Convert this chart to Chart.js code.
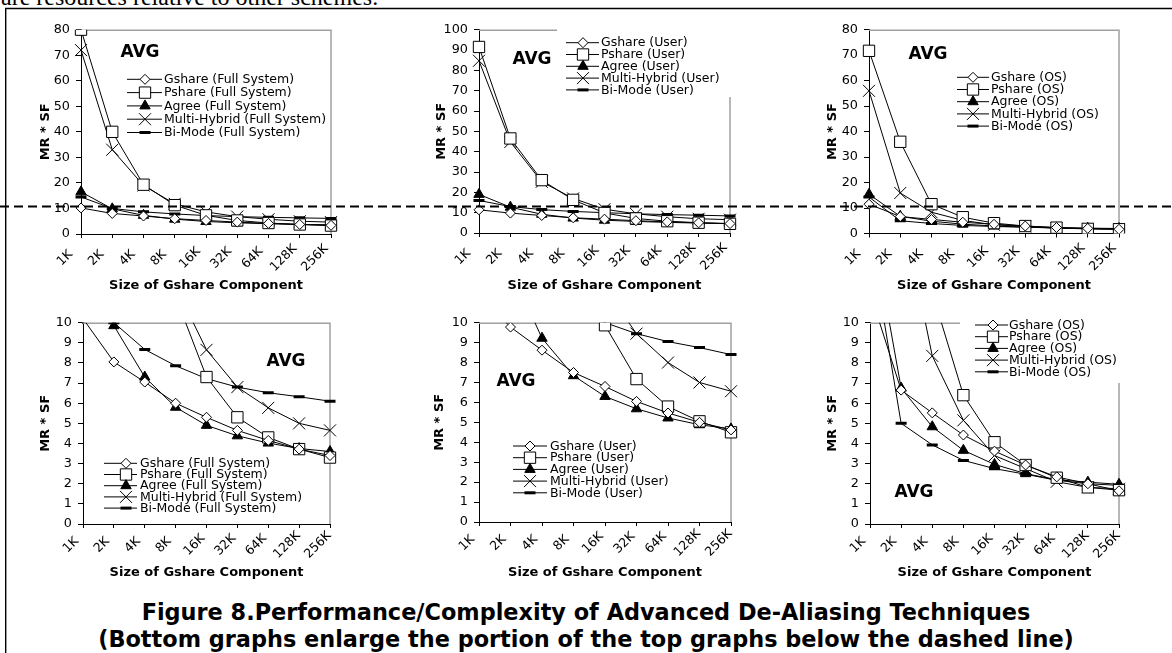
<!DOCTYPE html>
<html>
<head>
<meta charset="utf-8">
<title>Figure 8</title>
<script src="https://cdn.jsdelivr.net/npm/chart.js"></script>
<style>
  html, body { margin:0; padding:0; background:#fff; }
  body { position:relative; width:1172px; height:653px; overflow:hidden; }
  .prev { position:absolute; left:1px; top:-15px; font-family:"Liberation Serif"; font-size:24px; line-height:24px; white-space:nowrap; color:#000; }
  .cap { position:absolute; left:0; width:1172px; text-align:center; font-family:"DejaVu Sans"; font-weight:bold; font-size:22.4px; line-height:28px; white-space:nowrap; color:#000; }
  svg.overlay { position:absolute; left:0; top:0; z-index:5; pointer-events:none; }
  canvas { position:absolute; z-index:1; }
</style>
</head>
<body>
<div class="prev">are resources relative to other schemes.</div>
<div class="cap" style="top:597.5px">Figure 8.Performance/Complexity of Advanced De-Aliasing Techniques</div>
<div class="cap" style="top:625.3px">(Bottom graphs enlarge the portion of the top graphs below the dashed line)</div>
<svg class="overlay" width="1172" height="653">
  <line x1="5.7" y1="8" x2="5.7" y2="653" stroke="#000" stroke-width="1.4"/>
  <line x1="5" y1="8.5" x2="1172" y2="8.5" stroke="#000" stroke-width="1.4"/>
  <line x1="0" y1="206.5" x2="1172" y2="206.5" stroke="#000" stroke-width="1.8" stroke-dasharray="9 5"/>
</svg>
<script>
// ---------------- data ----------------
const sizeLabels = ['1K','2K','4K','8K','16K','32K','64K','128K','256K'];
const seriesNames = ['Gshare','Pshare','Agree','Multi-Hybrid','Bi-Mode'];
const modeNames = ['Full System','User','OS'];

// Full System
const gshareFull = [10.2, 8.05, 7.05, 6.0, 5.3, 4.65, 4.15, 3.72, 3.4];
const pshareFull = [80, 40, 19.3, 11.3, 7.3, 5.3, 4.3, 3.72, 3.3];
const agreeFull  = [16.5, 9.85, 7.3, 5.8, 4.9, 4.38, 4.02, 3.75, 3.6];
const multiFull  = [72, 33, 19, 11.8, 8.65, 6.8, 5.77, 5.0, 4.65];
const bimodeFull = [14.5, 10.0, 8.67, 7.86, 7.22, 6.8, 6.52, 6.32, 6.1];

// User
const gshareUser = [11.4, 9.78, 8.62, 7.5, 6.8, 6.05, 5.47, 5.0, 4.62];
const pshareUser = [91.5, 46.5, 26, 16.3, 9.87, 7.17, 5.79, 5.05, 4.5];
const agreeUser  = [19, 12.7, 9.22, 7.34, 6.3, 5.68, 5.22, 4.88, 4.67];
const multiUser  = [84.7, 44.8, 25.2, 17, 11.7, 9.45, 8.0, 7.0, 6.56];
const bimodeUser = [16, 13, 11.5, 10.6, 10.0, 9.45, 9.05, 8.75, 8.4];

// OS
const gshareOS = [11.5, 6.65, 5.52, 4.42, 3.62, 2.93, 2.34, 2.0, 1.65];
const pshareOS = [71.7, 36, 11.5, 6.4, 4.06, 2.93, 2.3, 1.82, 1.68];
const agreeOS  = [15.4, 6.75, 4.83, 3.66, 2.96, 2.5, 2.2, 2.08, 1.97];
const multiOS  = [56, 15.9, 8.35, 5.15, 3.4, 2.75, 2.1, 1.82, 1.75];
const bimodeOS = [14.3, 5.0, 3.93, 3.16, 2.75, 2.47, 2.17, 2.0, 1.92];

const yMaxTop = [80, 100, 80];
const yStepTop = 10;
const yMaxBottom = 10;
const yStepBottom = 1;
const yTitle = 'MR * SF';
const xTitle = 'Size of Gshare Component';
const panelTag = 'AVG';

// ---------------- styles / layout ----------------
const FONT = '"DejaVu Sans"';
Chart.defaults.font.family = FONT;
Chart.defaults.color = '#000';

const markerStyles = [
  {pointStyle:'rectRot',  radius:5,   fill:'#fff', bw:1},
  {pointStyle:'rect',     radius:8,   fill:'#fff', bw:1},
  {pointStyle:'triangle', radius:6,   fill:'#000', bw:1},
  {pointStyle:'crossRot', radius:8.5, fill:'#000', bw:1},
  {pointStyle:'line',     radius:5.5, fill:'#000', bw:3}
];

const groups = [
  [gshareFull, pshareFull, agreeFull, multiFull, bimodeFull],
  [gshareUser, pshareUser, agreeUser, multiUser, bimodeUser],
  [gshareOS, pshareOS, agreeOS, multiOS, bimodeOS]
];

const panels = [
  {g:0, top:true,  area:[81,28.7,331,234],   yTitleX:46,  xTitleY:285, lab:[-16,24],
   legend:{l1:127,l2:162,mx:145,tx:164,y0:79.3,dy:13.3}, avg:[140,53], box:null},
  {g:1, top:true,  area:[479,28.7,730,233],  yTitleX:442, xTitleY:285, lab:[-16,24],
   legend:{l1:566,l2:599,mx:583,tx:601,y0:42.7,dy:11.8}, avg:[532,60], box:[557,22,737,97]},
  {g:2, top:true,  area:[869,28.5,1119,233.5], yTitleX:833, xTitleY:285, lab:[-16,24],
   legend:{l1:957,l2:989,mx:973,tx:991,y0:77.3,dy:12.2}, avg:[928,55], box:null},
  {g:0, top:false, area:[83,321.7,330,524],  yTitleX:46,  xTitleY:572, lab:[-12,21],
   legend:{l1:104,l2:137,mx:126,tx:140,y0:463.3,dy:11.2}, avg:[286,362], box:null},
  {g:1, top:false, area:[479,321.7,731,522], yTitleX:440, xTitleY:572, lab:[-12,21],
   legend:{l1:513,l2:547,mx:530,tx:550,y0:446,dy:11.7}, avg:[516,382], box:null},
  {g:2, top:false, area:[870,321.7,1119,524], yTitleX:833, xTitleY:572, lab:[-12,21],
   legend:{l1:975,l2:1008,mx:993,tx:1009,y0:325,dy:11.7}, avg:[914,493], box:[960,315,1126,383]}
];

function drawMarker(ctx, m, x, y) {
  const r = m.radius;
  ctx.save();
  ctx.lineWidth = m.bw; ctx.strokeStyle = '#000'; ctx.fillStyle = m.fill;
  ctx.beginPath();
  switch (m.pointStyle) {
    case 'rectRot':
      ctx.moveTo(x - r, y); ctx.lineTo(x, y - r); ctx.lineTo(x + r, y); ctx.lineTo(x, y + r); ctx.closePath();
      ctx.fill(); ctx.stroke(); break;
    case 'rect': {
      const s = Math.SQRT1_2 * r;
      ctx.rect(x - s, y - s, 2 * s, 2 * s); ctx.fill(); ctx.stroke(); break;
    }
    case 'triangle':
      ctx.moveTo(x, y - r); ctx.lineTo(x + 0.866 * r, y + 0.5 * r); ctx.lineTo(x - 0.866 * r, y + 0.5 * r); ctx.closePath();
      ctx.fill(); ctx.stroke(); break;
    case 'crossRot': {
      const o = Math.SQRT1_2 * r;
      ctx.moveTo(x - o, y - o); ctx.lineTo(x + o, y + o); ctx.moveTo(x + o, y - o); ctx.lineTo(x - o, y + o);
      ctx.stroke(); break;
    }
    case 'line':
      ctx.moveTo(x - r, y); ctx.lineTo(x + r, y); ctx.stroke(); break;
  }
  ctx.restore();
}

function build(p) {
  const [L, T, R, B] = p.area;
  const cl = Math.floor(p.yTitleX - 8.5);
  const ct = Math.floor(T) - 12;
  const W = Math.ceil(R + 16 - cl);
  const H = Math.ceil(p.xTitleY + 8 - ct);
  const yAxisW = L - cl;
  const xAxisH = ct + H - B;
  const padTop = T - ct;
  const padRight = cl + W - R;
  const yTitlePad = p.yTitleX - cl - 7.8;

  const canvas = document.createElement('canvas');
  canvas.width = W; canvas.height = H;
  canvas.style.left = cl + 'px'; canvas.style.top = ct + 'px';
  canvas.style.width = W + 'px'; canvas.style.height = H + 'px';
  document.body.appendChild(canvas);

  const series = groups[p.g];
  const datasets = series.map((vals, i) => {
    const m = markerStyles[i];
    return {
      label: seriesNames[i] + ' (' + modeNames[p.g] + ')',
      data: vals,
      borderColor: '#000',
      borderWidth: 1,
      tension: 0,
      fill: false,
      pointStyle: m.pointStyle,
      pointRadius: m.radius,
      pointHoverRadius: m.radius,
      pointBackgroundColor: m.fill,
      pointBorderColor: '#000',
      pointBorderWidth: m.bw
    };
  });

  const decor = {
    id: 'decor' + p.g + (p.top ? 't' : 'b'),
    beforeDatasetsDraw(chart) {
      const {ctx, chartArea: a} = chart;
      ctx.save();
      ctx.strokeStyle = '#a0a0a0'; ctx.lineWidth = 1.5;
      ctx.beginPath();
      ctx.moveTo(a.left, a.top + 0.5); ctx.lineTo(a.right, a.top + 0.5); ctx.lineTo(a.right, a.bottom);
      ctx.stroke();
      ctx.restore();
    },
    afterDraw(chart) {
      const ctx = chart.ctx;
      const xs = chart.scales.x;
      // x tick labels (rotated, centred below ticks)
      ctx.save();
      ctx.fillStyle = '#000';
      ctx.font = '12.5px ' + FONT;
      ctx.textAlign = 'center'; ctx.textBaseline = 'middle';
      xs.ticks.forEach((t, i) => {
        const px = xs.getPixelForTick(i);
        ctx.save();
        ctx.translate(px + p.lab[0], xs.top + p.lab[1]);
        ctx.rotate(-Math.PI / 4);
        ctx.fillText(xs.getLabelForValue(t.value), 0, 0);
        ctx.restore();
      });
      ctx.restore();
      // legend white box
      if (p.box) {
        ctx.save(); ctx.fillStyle = '#fff';
        ctx.fillRect(p.box[0] - cl, p.box[1] - ct, p.box[2] - p.box[0], p.box[3] - p.box[1]);
        ctx.restore();
      }
      // legend
      const lg = p.legend;
      chart.data.datasets.forEach((ds, i) => {
        const y = lg.y0 + i * lg.dy - ct;
        ctx.save();
        ctx.strokeStyle = '#000'; ctx.lineWidth = 1;
        ctx.beginPath(); ctx.moveTo(lg.l1 - cl, y); ctx.lineTo(lg.l2 - cl, y); ctx.stroke();
        ctx.restore();
        drawMarker(ctx, markerStyles[i], lg.mx - cl, y);
        ctx.save();
        ctx.fillStyle = '#000'; ctx.font = '12.5px ' + FONT;
        ctx.textAlign = 'left'; ctx.textBaseline = 'middle';
        ctx.fillText(ds.label, lg.tx - cl, y + 0.5);
        ctx.restore();
      });
      // AVG tag
      ctx.save();
      ctx.fillStyle = '#000'; ctx.font = 'bold 17px ' + FONT;
      ctx.textAlign = 'center'; ctx.textBaseline = 'middle';
      ctx.fillText(panelTag, p.avg[0] - cl, p.avg[1] - ct);
      ctx.restore();
    }
  };

  new Chart(canvas, {
    type: 'line',
    data: { labels: sizeLabels, datasets },
    options: {
      responsive: false,
      animation: false,
      devicePixelRatio: 1,
      events: [],
      layout: { padding: { top: padTop, right: padRight, left: 0, bottom: 0 } },
      plugins: { legend: { display: false }, tooltip: { enabled: false } },
      scales: {
        x: {
          type: 'category',
          offset: false,
          ticks: { display: false, autoSkip: false },
          grid: { display: true, offset: false, drawOnChartArea: false, drawTicks: true, tickLength: 4, color: '#000', lineWidth: 1 },
          border: { display: true, color: '#000', width: 1 },
          title: { display: true, text: xTitle, color: '#000', font: { family: FONT, size: 13, weight: 'bold' }, padding: { top: 0, bottom: 0 } },
          afterFit(s) { s.height = xAxisH; }
        },
        y: {
          type: 'linear',
          min: 0,
          max: p.top ? yMaxTop[p.g] : yMaxBottom,
          ticks: { stepSize: p.top ? yStepTop : yStepBottom, color: '#000', font: { family: FONT, size: 12.8 }, padding: 6 },
          grid: { display: true, drawOnChartArea: false, drawTicks: true, tickLength: 5, color: '#000', lineWidth: 1 },
          border: { display: true, color: '#000', width: 1 },
          title: { display: true, text: yTitle, color: '#000', font: { family: FONT, size: 13, weight: 'bold' }, padding: { top: yTitlePad, bottom: 0 } },
          afterFit(s) { s.width = yAxisW; }
        }
      }
    },
    plugins: [decor]
  });
}

panels.forEach(build);
</script>
</body>
</html>
